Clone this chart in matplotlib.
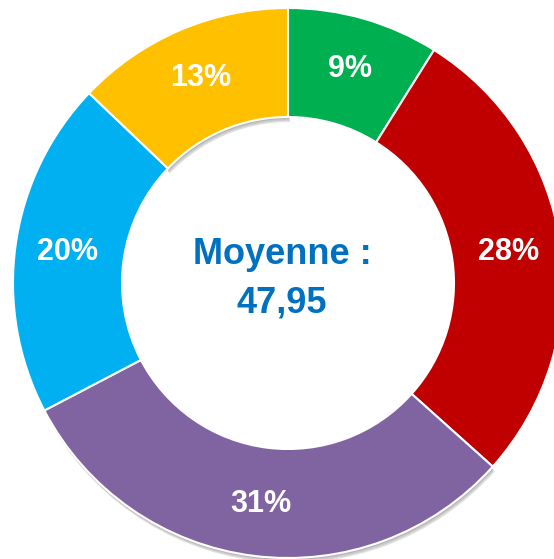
import matplotlib.pyplot as plt
from matplotlib.patches import Wedge

# slices, clockwise from 12 o'clock
categories = ["vert", "rouge", "violet", "bleu", "jaune"]
values = [9, 28, 31, 20, 13]
labels = ["9%", "28%", "31%", "20%", "13%"]
colors = ["#00B050", "#C00000", "#8064A2", "#00B0F0", "#FFC000"]
center_text = "Moyenne :\n47,95"

W, H = 554, 559
fig = plt.figure(figsize=(W / 100, H / 100), dpi=100)
ax = fig.add_axes([0, 0, 1, 1])

cx, cy = 288, H - 283
R, r_in = 275, 166

wedges, texts = ax.pie(
    values, colors=colors, labels=labels, startangle=90, counterclock=False,
    center=(cx, cy), radius=R, labeldistance=0.81,
    wedgeprops=dict(width=R - r_in, edgecolor="white", linewidth=1.5),
    textprops=dict(color="white", fontsize=22, fontweight="bold",
                   family="Liberation Sans"),
    frame=True,
)
ax.set_xlim(0, W)
ax.set_ylim(0, H)
ax.set_aspect("equal")
ax.axis("off")
for t in texts:
    t.set_ha("center")
    t.set_va("center")

# soft shadows under the purple and yellow slices
for k in (2, 4):
    w = wedges[k]
    for i, a in enumerate([0.10, 0.10, 0.12]):
        off = 2 + i * 1.5
        sh = Wedge((cx + off * 0.4, cy - off), R, w.theta1, w.theta2,
                   width=R - r_in, facecolor="black", edgecolor="none",
                   alpha=a, zorder=w.get_zorder() - 1)
        ax.add_patch(sh)

ax.text(cx - 6, H - 279, center_text, ha="center", va="center",
        color="#0070C0", fontsize=26, fontweight="bold",
        family="Liberation Sans", linespacing=1.5)

fig.savefig("out.png", dpi=100)
